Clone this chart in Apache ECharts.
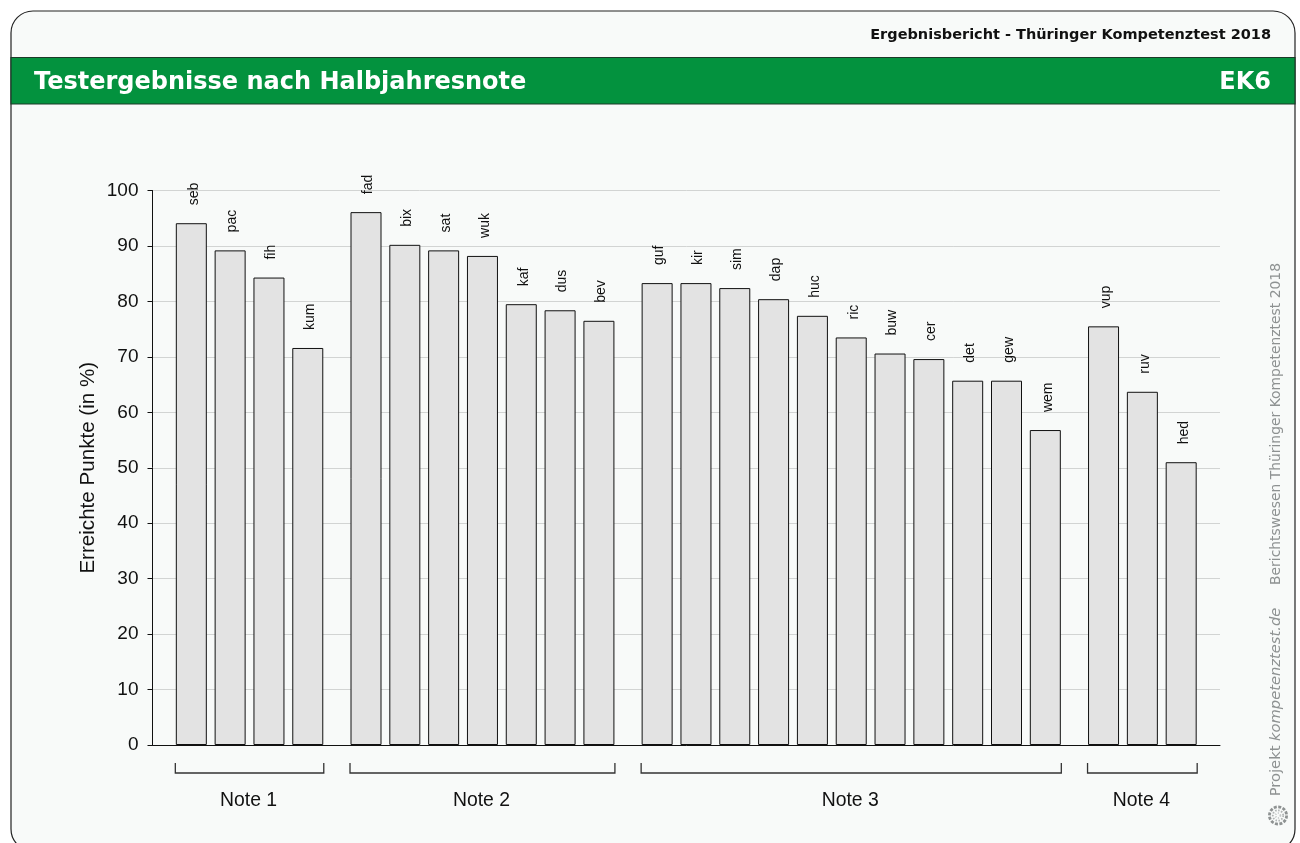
<!DOCTYPE html>
<html>
<head>
<meta charset="utf-8">
<title>Testergebnisse nach Halbjahresnote</title>
<style>
html,body{margin:0;padding:0;background:#fff;overflow:hidden}
#main{width:1300px;height:843px}
</style>
<script src="https://cdn.jsdelivr.net/npm/echarts@6/dist/echarts.min.js"></script>
</head>
<body>
<div id="main"></div>
<script>
// one list of codes and one list of values per grade
var groupNames = ["Note 1", "Note 2", "Note 3", "Note 4"];
var note1Codes = ["seb", "pac", "fih", "kum"];
var note1Values = [94.1, 89.2, 84.3, 71.6];
var note2Codes = ["fad", "bix", "sat", "wuk", "kaf", "dus", "bev"];
var note2Values = [96.1, 90.2, 89.2, 88.2, 79.5, 78.4, 76.5];
var note3Codes = ["guf", "kir", "sim", "dap", "huc", "ric", "buw", "cer", "det", "gew", "wem"];
var note3Values = [83.3, 83.3, 82.4, 80.4, 77.4, 73.5, 70.6, 69.6, 65.7, 65.7, 56.8];
var note4Codes = ["vup", "ruv", "hed"];
var note4Values = [75.5, 63.7, 51.0];
var yTicks = [0, 10, 20, 30, 40, 50, 60, 70, 80, 90, 100];

var sans = "'Liberation Sans', Arial, sans-serif";
var head = "'DejaVu Sans', sans-serif";
var barWidth = 31;

// bars sit one unit apart, half a unit extra between the groups
var allCodes = [note1Codes, note2Codes, note3Codes, note4Codes];
var allValues = [note1Values, note2Values, note3Values, note4Values];
var barData = [];
var groupData = [];
var pos = 1;
for (var g = 0; g < allCodes.length; g++) {
	var first = pos;
	for (var i = 0; i < allCodes[g].length; i++) {
		barData.push({value: [pos, allValues[g][i]], code: allCodes[g][i]});
		pos++;
	}
	groupData.push([first, pos - 1, g]);
	pos += 0.5;
}

// bracket and grade name below each group
function renderGroup(params, api) {
	var left = api.coord([api.value(0), 0]);
	var right = api.coord([api.value(1), 0]);
	var x1 = left[0] - barWidth / 2 - 0.5;
	var x2 = right[0] + barWidth / 2 + 0.5;
	var y = left[1];
	return {
		type: "group",
		children: [{
			type: "polyline",
			shape: {points: [[x1, y + 18], [x1, y + 28], [x2, y + 28], [x2, y + 18]]},
			style: {stroke: "#333", lineWidth: 1.3, fill: null}
		}, {
			type: "text",
			style: {
				text: groupNames[api.value(2)],
				x: (x1 + x2) / 2 - 1,
				y: y + 56,
				align: "center",
				verticalAlign: "middle",
				fill: "#111",
				font: "19.4px " + sans
			}
		}]
	};
}

// small swirl logo, just rings of dashes
function logoRing(r, w, dash, colour) {
	return {
		type: "circle",
		shape: {cx: 1278, cy: 815.5, r: r},
		style: {fill: null, stroke: colour, lineWidth: w, lineDash: dash}
	};
}

var myChart = echarts.init(document.getElementById("main"), null, {renderer: "canvas"});

var option = {
	animation: false,
	backgroundColor: "#ffffff",
	graphic: {elements: [
		{
			type: "rect", z: -10, silent: true,
			shape: {x: 11, y: 11, width: 1284, height: 840, r: 22},
			style: {fill: "#f8faf9", stroke: "#222", lineWidth: 1.2}
		},
		{
			type: "rect", z: -9, silent: true,
			shape: {x: 11, y: 57.5, width: 1284, height: 46.5},
			style: {fill: "#03923e", stroke: "#1c3a28", lineWidth: 1.2}
		},
		{
			type: "text", z: 5, silent: true,
			style: {
				text: "Ergebnisbericht - Thüringer Kompetenztest 2018",
				x: 1271, y: 35, align: "right", verticalAlign: "middle",
				fill: "#111", font: "bold 14.5px " + head
			}
		},
		{
			type: "text", z: 5, silent: true,
			style: {
				text: "Testergebnisse nach Halbjahresnote",
				x: 34, y: 83, align: "left", verticalAlign: "middle",
				fill: "#fff", font: "bold 24px " + head
			}
		},
		{
			type: "text", z: 5, silent: true,
			style: {
				text: "EK6",
				x: 1271, y: 83, align: "right", verticalAlign: "middle",
				fill: "#fff", font: "bold 24px " + head
			}
		},
		{
			type: "text", z: 5, silent: true, x: 1276.5, y: 424, rotation: Math.PI / 2,
			style: {
				text: "Berichtswesen Thüringer Kompetenztest 2018",
				x: 0, y: 0, align: "center", verticalAlign: "middle",
				fill: "#8e9292", font: "13.9px " + head
			}
		},
		{
			type: "text", z: 5, silent: true, x: 1276.5, y: 702, rotation: Math.PI / 2,
			style: {
				text: "Projekt {i|kompetenztest.de}",
				x: 0, y: 0, align: "center", verticalAlign: "middle",
				fill: "#8e9292", font: "14.7px " + head,
				rich: {i: {fill: "#8e9292", font: "italic 14.7px " + head}}
			}
		},
		logoRing(8.6, 2.8, [3, 1.5], "#8e9292"),
		logoRing(5.2, 1.8, [1.5, 1.5], "#b0b4b4"),
		logoRing(2.4, 1.8, [1, 1.5], "#c4c8c8")
	]},
	grid: {left: 152.5, top: 190.5, width: 1067.5, height: 554.5, containLabel: false},
	xAxis: {
		type: "value",
		min: 0,
		max: 27.5,
		axisLine: {show: true, lineStyle: {color: "#111", width: 1}},
		axisTick: {show: false},
		axisLabel: {show: false},
		splitLine: {show: false}
	},
	yAxis: {
		type: "value",
		min: yTicks[0],
		max: yTicks[yTicks.length - 1],
		interval: yTicks[1] - yTicks[0],
		name: "Erreichte Punkte (in %)",
		nameLocation: "middle",
		nameGap: 54,
		nameMoveOverlap: false,
		nameTextStyle: {fontFamily: sans, fontSize: 20.6, color: "#111"},
		axisLine: {show: true, lineStyle: {color: "#111", width: 1}},
		axisTick: {show: true, length: 5, lineStyle: {color: "#111", width: 1}},
		axisLabel: {fontFamily: sans, fontSize: 19, color: "#111", margin: 14},
		splitLine: {show: true, lineStyle: {color: "#d2d4d3", width: 1}}
	},
	series: [{
		type: "bar",
		data: barData,
		barWidth: barWidth,
		itemStyle: {color: "#e3e3e3", borderColor: "#111", borderWidth: 1},
		label: {
			show: true,
			position: "top",
			distance: 18,
			offset: [0, 2.5],
			rotate: 90,
			align: "left",
			verticalAlign: "middle",
			fontFamily: sans,
			fontSize: 14,
			color: "#111",
			formatter: function(p) { return p.data.code; }
		}
	}, {
		type: "custom",
		data: groupData,
		encode: {x: [0, 1]},
		clip: false,
		silent: true,
		renderItem: renderGroup
	}]
};

myChart.setOption(option);
</script>
</body>
</html>
